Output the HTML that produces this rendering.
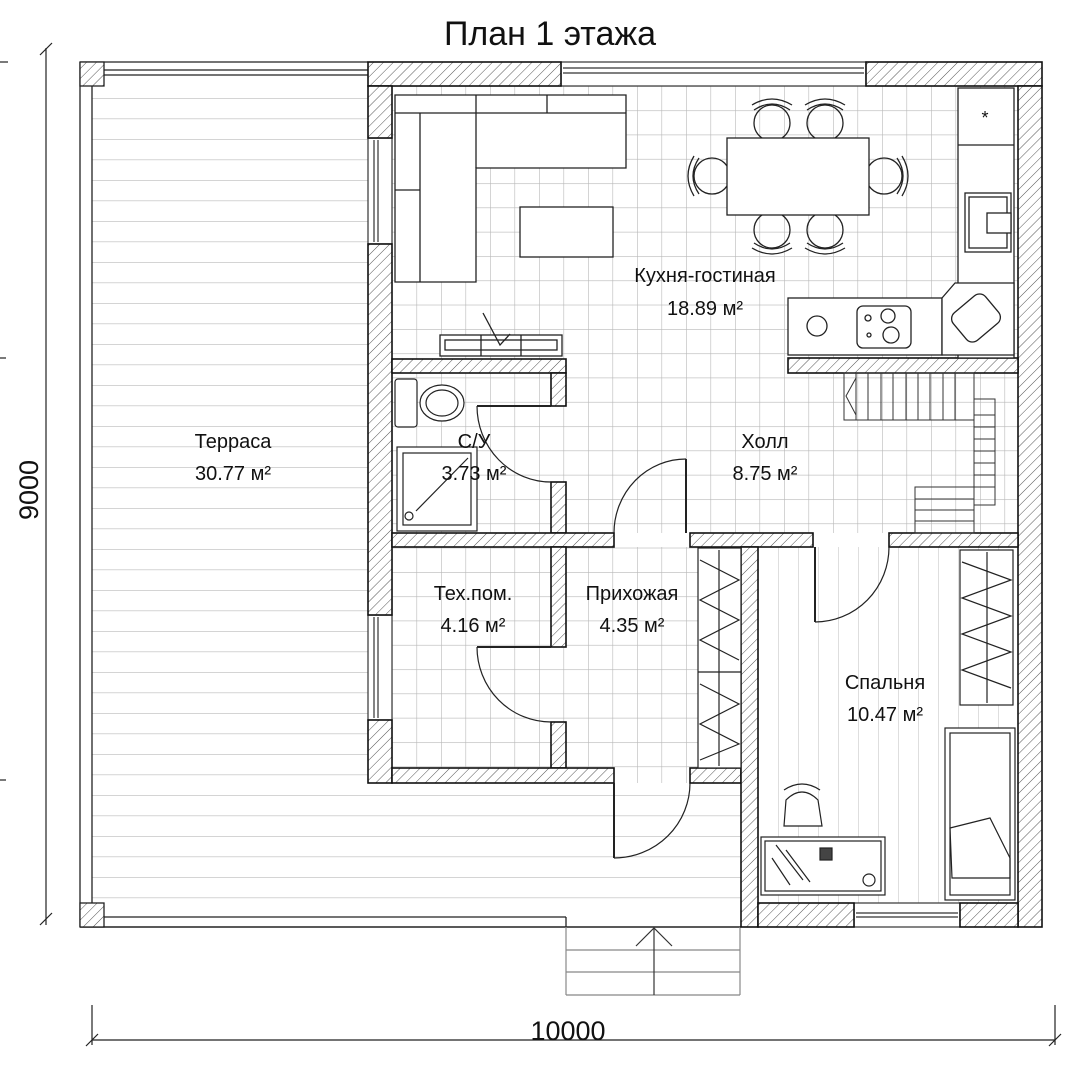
<!DOCTYPE html>
<html><head><meta charset="utf-8"><style>
html,body{margin:0;padding:0;background:#fff}
svg{display:block}
text{font-family:"Liberation Sans",sans-serif;fill:#111}
</style></head><body>
<svg width="1077" height="1080" viewBox="0 0 1077 1080" xmlns="http://www.w3.org/2000/svg">
<defs>
<pattern id="h" width="7" height="7" patternUnits="userSpaceOnUse" patternTransform="rotate(45)">
<rect width="7" height="7" fill="#fff"/><line x1="0" y1="0" x2="0" y2="7" stroke="#555" stroke-width="1"/>
</pattern>
<pattern id="g" x="392" y="86" width="24.5" height="24.3" patternUnits="userSpaceOnUse">
<rect width="24.5" height="24.3" fill="#fff"/>
<path d="M0 0H24.5M0 0V24.3" stroke="#b8b8b8" stroke-width="1.2" fill="none"/>
</pattern>
<pattern id="t" x="0" y="98" width="10" height="20.5" patternUnits="userSpaceOnUse">
<rect width="10" height="20.5" fill="#fff"/><line x1="0" y1="0" x2="10" y2="0" stroke="#bdbdbd" stroke-width="1.3"/>
</pattern>
<pattern id="v" x="758" y="0" width="20" height="10" patternUnits="userSpaceOnUse">
<rect width="20" height="10" fill="#fff"/><line x1="0" y1="0" x2="0" y2="10" stroke="#c8c8c8" stroke-width="1.2"/>
</pattern>
</defs>

<text x="550" y="45" font-size="34" text-anchor="middle">План 1 этажа</text>

<g stroke="#222" stroke-width="1.2">
<line x1="46" y1="48" x2="46" y2="925"/>
<line x1="40" y1="55" x2="52" y2="43"/><line x1="40" y1="925" x2="52" y2="913"/>
<line x1="0" y1="62" x2="8" y2="62"/><line x1="0" y1="358" x2="6" y2="358"/><line x1="0" y1="780" x2="6" y2="780"/>
<line x1="92" y1="1040" x2="1055" y2="1040"/>
<line x1="92" y1="1005" x2="92" y2="1045"/><line x1="1055" y1="1005" x2="1055" y2="1045"/>
<line x1="86" y1="1046" x2="98" y2="1034"/><line x1="1049" y1="1046" x2="1061" y2="1034"/>
</g>
<text x="568" y="1040" font-size="27" text-anchor="middle">10000</text>
<text transform="translate(38,490) rotate(-90)" font-size="27" text-anchor="middle">9000</text>

<rect x="92" y="86" width="276" height="831" fill="url(#t)"/>
<rect x="368" y="783" width="373" height="134" fill="url(#t)"/>
<g stroke="#222" stroke-width="1.3" fill="none">
<line x1="80" y1="62" x2="368" y2="62"/><line x1="104" y1="70" x2="368" y2="70"/><line x1="104" y1="75" x2="368" y2="75"/>
<line x1="80" y1="62" x2="80" y2="927"/><line x1="92" y1="86" x2="92" y2="903"/>
<line x1="80" y1="927" x2="741" y2="927" stroke-width="1.6"/><line x1="104" y1="917" x2="566" y2="917"/>
<line x1="566" y1="917" x2="566" y2="927"/>
</g>
<rect x="80" y="62" width="24" height="24" fill="url(#h)" stroke="#222" stroke-width="1.3"/>
<rect x="80" y="903" width="24" height="24" fill="url(#h)" stroke="#222" stroke-width="1.3"/>

<g stroke="#888" stroke-width="1.2" fill="none">
<line x1="566" y1="927" x2="566" y2="995"/><line x1="740" y1="927" x2="740" y2="995"/>
<line x1="566" y1="950" x2="740" y2="950"/><line x1="566" y1="972" x2="740" y2="972"/><line x1="566" y1="995" x2="740" y2="995"/>
<line x1="654" y1="927" x2="654" y2="995" stroke="#333"/>
<polyline points="636,946 654,928 672,946" stroke="#333"/>
</g>

<rect x="392" y="86" width="626" height="447" fill="url(#g)"/>
<rect x="392" y="547" width="349" height="221" fill="url(#g)"/>
<rect x="566" y="768" width="124" height="15" fill="url(#g)"/>
<rect x="758" y="547" width="260" height="356" fill="url(#v)"/>

<g stroke="#333" stroke-width="1.2" fill="#fff">
<rect x="561" y="62" width="305" height="24"/><line x1="563" y1="68" x2="864" y2="68"/><line x1="563" y1="73" x2="864" y2="73"/>
<rect x="368" y="138" width="24" height="106"/><line x1="374" y1="140" x2="374" y2="242"/><line x1="378" y1="140" x2="378" y2="242"/>
<rect x="368" y="615" width="24" height="105"/><line x1="374" y1="617" x2="374" y2="718"/><line x1="378" y1="617" x2="378" y2="718"/>
<rect x="854" y="903" width="106" height="24"/><line x1="856" y1="913" x2="958" y2="913"/><line x1="856" y1="917" x2="958" y2="917"/>
</g>

<g fill="url(#h)" stroke="#111" stroke-width="1.6">
<rect x="368" y="62" width="193" height="24"/>
<rect x="866" y="62" width="176" height="24"/>
<rect x="368" y="86" width="24" height="52"/>
<rect x="368" y="244" width="24" height="371"/>
<rect x="368" y="720" width="24" height="63"/>
<rect x="1018" y="86" width="24" height="841"/>
<rect x="392" y="359" width="174" height="14"/>
<rect x="551" y="373" width="15" height="33"/>
<rect x="551" y="482" width="15" height="51"/>
<rect x="392" y="533" width="222" height="14"/>
<rect x="690" y="533" width="123" height="14"/>
<rect x="889" y="533" width="129" height="14"/>
<rect x="551" y="547" width="15" height="100"/>
<rect x="551" y="722" width="15" height="46"/>
<rect x="392" y="768" width="222" height="15"/>
<rect x="690" y="768" width="51" height="15"/>
<rect x="741" y="547" width="17" height="380"/>
<rect x="758" y="903" width="96" height="24"/>
<rect x="960" y="903" width="58" height="24"/>
<rect x="788" y="358" width="230" height="15"/>
</g>

<g stroke="#222" stroke-width="1.2" fill="none">
<line x1="686" y1="459" x2="686" y2="533" stroke-width="2"/><path d="M614 533 A72 74 0 0 1 686 459"/>
<line x1="614" y1="783" x2="614" y2="858" stroke-width="2"/><path d="M690 783 A76 75 0 0 1 614 858"/>
<line x1="815" y1="547" x2="815" y2="622" stroke-width="2"/><path d="M889 547 A74 75 0 0 1 815 622"/>
<line x1="477" y1="406" x2="551" y2="406" stroke-width="2"/><path d="M477 406 A74 76 0 0 0 551 482"/>
<line x1="477" y1="647" x2="551" y2="647" stroke-width="2"/><path d="M477 647 A74 75 0 0 0 551 722"/>
</g>

<g stroke="#222" stroke-width="1.3" fill="#fff">
<path d="M395 95 H626 V168 H476 V282 H395 Z"/>
<line x1="420" y1="113" x2="626" y2="113" fill="none"/><line x1="420" y1="113" x2="420" y2="282"/>
<line x1="476" y1="95" x2="476" y2="168"/><line x1="395" y1="113" x2="420" y2="113"/><line x1="547" y1="95" x2="547" y2="113"/>
<line x1="395" y1="190" x2="420" y2="190"/>
<rect x="520" y="207" width="93" height="50"/>
<rect x="440" y="335" width="122" height="21"/><rect x="445" y="340" width="112" height="10"/>
<line x1="481" y1="335" x2="481" y2="356"/><line x1="521" y1="335" x2="521" y2="356"/>
<polyline points="483,313 500,345 510,334" fill="none"/>
<g fill="none">
<circle cx="772" cy="123" r="18"/><path d="M754 110 Q772 98 790 110"/><path d="M752 105 Q772 93 792 105"/>
<circle cx="825" cy="123" r="18"/><path d="M807 110 Q825 98 843 110"/><path d="M805 105 Q825 93 845 105"/>
<circle cx="772" cy="230" r="18"/><path d="M754 243 Q772 255 790 243"/><path d="M752 248 Q772 260 792 248"/>
<circle cx="825" cy="230" r="18"/><path d="M807 243 Q825 255 843 243"/><path d="M805 248 Q825 260 845 248"/>
<circle cx="712" cy="176" r="18"/><path d="M699 158 Q687 176 699 194"/><path d="M694 156 Q682 176 694 196"/>
<circle cx="884" cy="176" r="18"/><path d="M897 158 Q909 176 897 194"/><path d="M902 156 Q914 176 902 196"/>
</g>
<rect x="727" y="138" width="142" height="77"/>
<rect x="958" y="88" width="56" height="270"/>
<line x1="958" y1="145" x2="1014" y2="145"/>
<rect x="965" y="193" width="46" height="59"/><rect x="969" y="197" width="38" height="51"/><rect x="987" y="213" width="24" height="20"/>
<rect x="788" y="298" width="154" height="57"/>
<path d="M942 298 L955 283 H1014 V355 H942 Z"/>
<rect x="857" y="306" width="54" height="42" rx="6"/>
<circle cx="888" cy="316" r="7" fill="none"/><circle cx="891" cy="335" r="8" fill="none"/><circle cx="868" cy="318" r="3" fill="none"/><circle cx="869" cy="335" r="2" fill="none"/>
<circle cx="817" cy="326" r="10" fill="none"/>
<rect x="955" y="300" width="42" height="36" rx="8" transform="rotate(-40 976 318)"/>
</g>
<text x="985" y="124" font-size="18" text-anchor="middle">*</text>

<g stroke="#333" stroke-width="1" fill="none">
<rect x="844" y="373" width="130" height="47"/>
<path d="M974 399 H995 V505 H974"/>
<rect x="915" y="487" width="59" height="46"/>
<line x1="974" y1="373" x2="974" y2="533"/>
<path d="M856 373 V420 M868 373 V420 M881 373 V420 M893 373 V420 M906 373 V420 M918 373 V420 M930 373 V420 M943 373 V420 M955 373 V420"/>
<path d="M974 415 H995 M974 427 H995 M974 439 H995 M974 451 H995 M974 463 H995 M974 475 H995 M974 487 H995"/>
<path d="M915 499 H974 M915 510 H974 M915 521 H974"/>
<polyline points="856,378 846,396 856,415"/>
</g>

<g stroke="#222" stroke-width="1.2" fill="#fff">
<rect x="395" y="379" width="22" height="48" rx="3"/>
<ellipse cx="442" cy="403" rx="22" ry="18"/><ellipse cx="442" cy="403" rx="16" ry="13"/>
<rect x="397" y="447" width="80" height="84"/><rect x="403" y="453" width="68" height="72"/>
<circle cx="409" cy="516" r="4" fill="none"/><line x1="416" y1="511" x2="468" y2="458"/>
</g>

<g stroke="#222" stroke-width="1.2" fill="#fff">
<rect x="698" y="548" width="43" height="220"/><line x1="698" y1="672" x2="741" y2="672"/><line x1="719" y1="550" x2="719" y2="766"/>
<path d="M700 560 L739 580 L700 600 L739 620 L700 640 L739 660 M700 684 L739 704 L700 724 L739 744 L700 760" fill="none"/>
<rect x="960" y="550" width="53" height="155"/><line x1="987" y1="552" x2="987" y2="703"/>
<path d="M962 562 L1011 580 L962 598 L1011 616 L962 634 L1011 652 L962 670 L1011 688" fill="none"/>
<rect x="945" y="728" width="70" height="172"/><rect x="950" y="733" width="60" height="162"/>
<path d="M950 828 L990 818 L1010 858 V878 H952 Z" fill="none"/>
<rect x="761" y="837" width="124" height="58"/><rect x="765" y="841" width="116" height="50"/>
<path d="M776 845 L803 880 M786 850 L810 882 M772 858 L790 885" fill="none"/>
<rect x="820" y="848" width="12" height="12" fill="#444"/>
<circle cx="869" cy="880" r="6" fill="none"/>
<path d="M786 800 Q802 784 818 800 L822 826 H784 Z"/><path d="M784 790 Q802 778 820 790" fill="none"/>
</g>

<g font-size="20" text-anchor="middle">
<text x="705" y="282">Кухня-гостиная</text><text x="705" y="315">18.89 м²</text>
<text x="765" y="448">Холл</text><text x="765" y="480">8.75 м²</text>
<text x="233" y="448">Терраса</text><text x="233" y="480">30.77 м²</text>
<text x="474" y="448">С/У</text><text x="474" y="480">3.73 м²</text>
<text x="473" y="600">Тех.пом.</text><text x="473" y="632">4.16 м²</text>
<text x="632" y="600">Прихожая</text><text x="632" y="632">4.35 м²</text>
<text x="885" y="689">Спальня</text><text x="885" y="721">10.47 м²</text>
</g>
</svg>
</body></html>
